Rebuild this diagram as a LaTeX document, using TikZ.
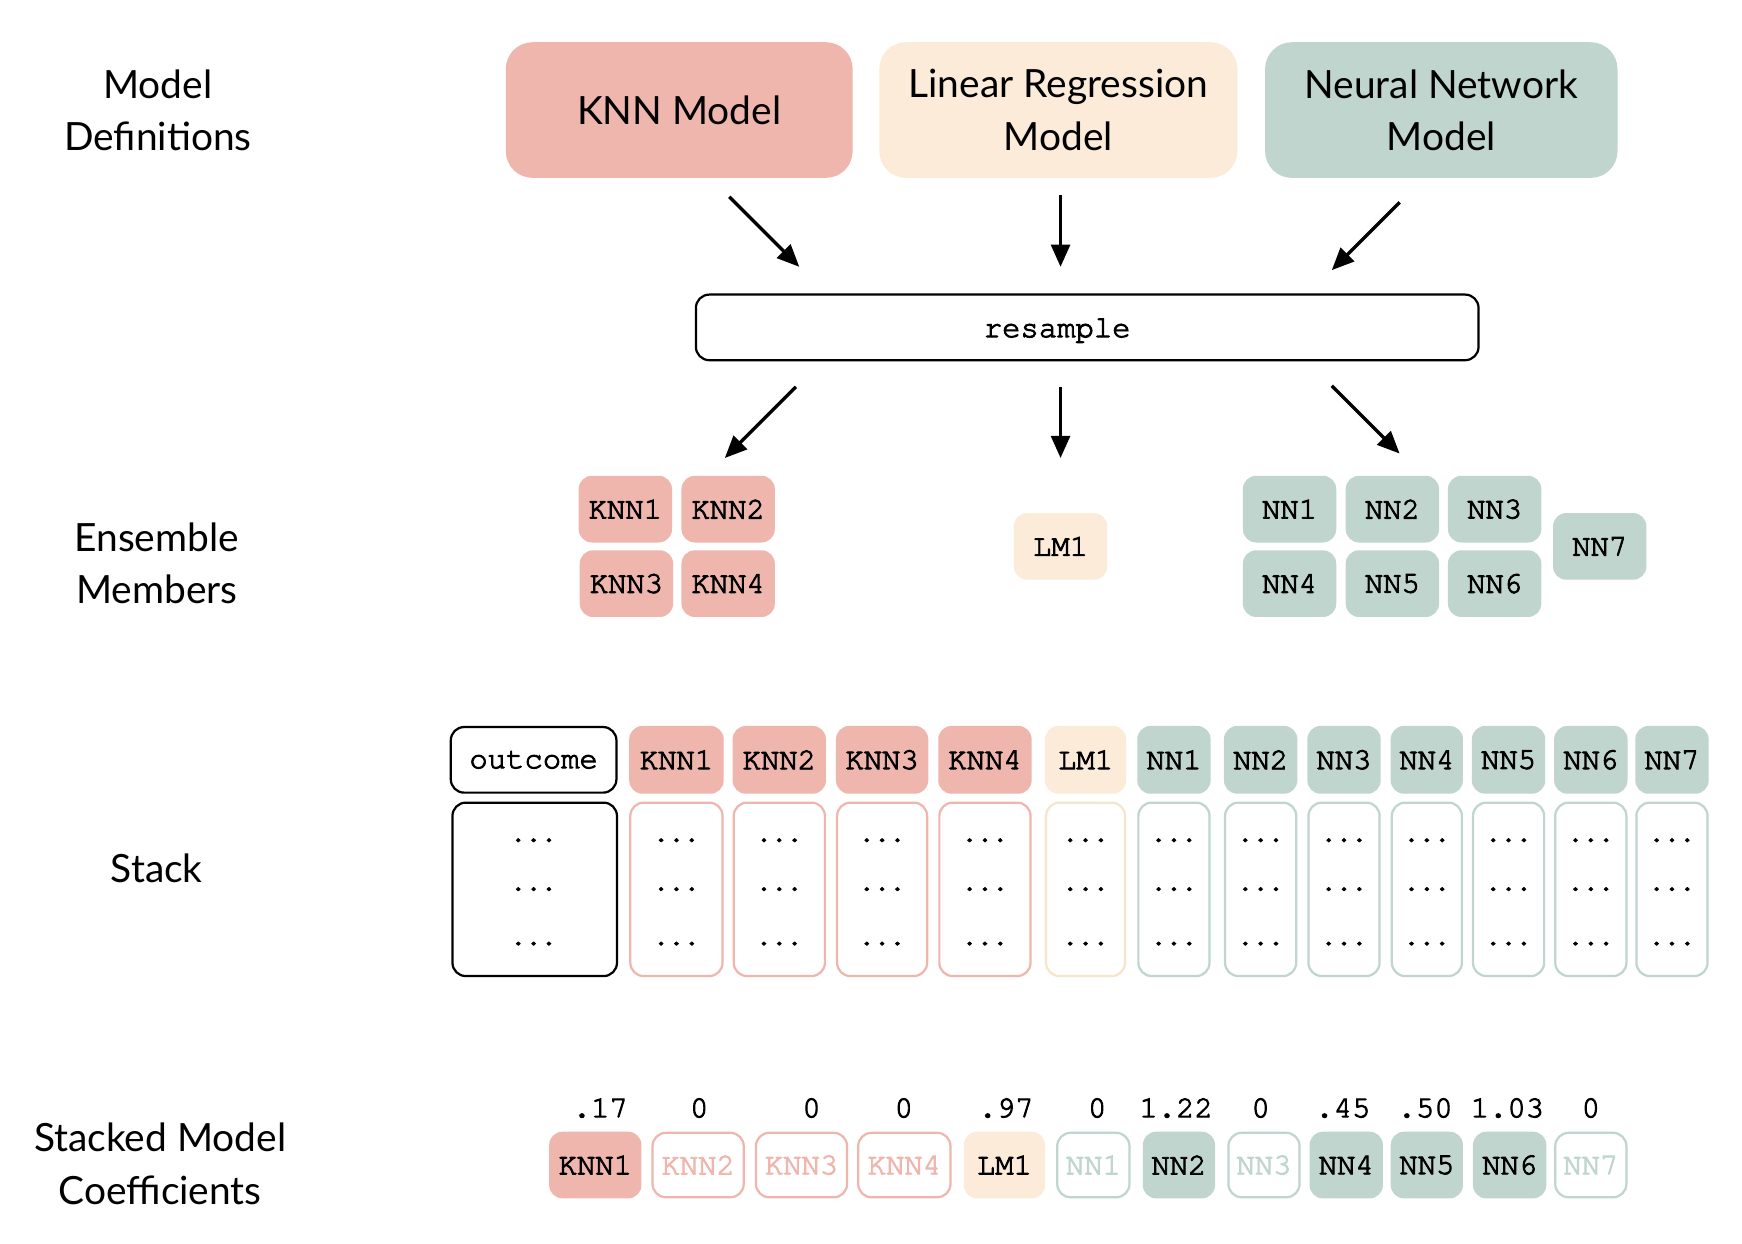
\documentclass[tikz,border=0pt]{standalone}
\usepackage{fontspec}
\setmainfont{Lato}
\newfontfamily\courfont{texgyrecursor-regular.otf}[FakeBold=3]
\usetikzlibrary{arrows.meta,calc}
\definecolor{pk}{HTML}{EFB6AE}
\definecolor{cr}{HTML}{FBEBD8}
\definecolor{crl}{HTML}{F7E4CC}
\definecolor{gr}{HTML}{C0D5CE}
\begin{document}
\begin{tikzpicture}[x=1pt,y=-1pt,
  lbl/.style={font=\fontsize{35}{47}\selectfont, align=center, inner sep=0pt},
  big/.style={rounded corners=24pt, minimum height=122pt, inner sep=0pt, align=center, font=\fontsize{35}{47}\selectfont},
  mono/.style={font=\courfont\fontsize{27.5}{30}\selectfont, inner sep=0pt},
  mem/.style={mono, rounded corners=12pt, minimum width=84pt, minimum height=60pt},
  hdr/.style={mono, rounded corners=12pt, minimum height=61pt},
  colbody/.style={rounded corners=12pt, line width=2pt, minimum height=156pt, inner sep=0pt},
  dots/.style={font=\courfont\fontsize{23}{26}\selectfont, inner sep=0pt, anchor=base},
  coef/.style={mono, rounded corners=12pt, minimum height=60pt},
  coefo/.style={mono, rounded corners=12pt, minimum height=58pt, line width=2pt, fill=white},
  num/.style={mono, anchor=base},
  arr/.style={line width=3pt, -{Triangle[length=20pt,width=17pt]}}
]
\fill[white] (0,0) rectangle (1567,1119);
\useasboundingbox (0,0) rectangle (1567,1119);

% left labels
\node[lbl] (ldef) at (142,99) {Model\\Definitions};
\node[lbl] (lens) at (141,507) {Ensemble\\Members};
\node[lbl] (lstack) at (141,781) {Stack};
\node[lbl] (lcoef) at (144,1047) {Stacked Model\\Coefficients};

% model definitions
\node[big, fill=pk, minimum width=312pt] (knn) at (611,99) {KNN Model};
\node[big, fill=cr, minimum width=322pt] (lin) at (952,99) {Linear Regression\\Model};
\node[big, fill=gr, minimum width=317pt] (nn) at (1296.5,99) {Neural Network\\Model};

% resample
\node[draw, line width=2pt, rounded corners=12pt, minimum width=704pt, minimum height=59pt, inner sep=0pt] (res) at (978,294.5) {};
\node[mono] (restxt) at (951,297.5) {resample};

% arrows
\coordinate (a1s) at (656,177); \coordinate (a1e) at (719,240);
\coordinate (a2s) at (954,175); \coordinate (a2e) at (954,240);
\coordinate (a3s) at (1259,182); \coordinate (a3e) at (1198,243);
\coordinate (b1s) at (716,348); \coordinate (b1e) at (652,412);
\coordinate (b2s) at (954,348); \coordinate (b2e) at (954,412);
\coordinate (b3s) at (1198,347); \coordinate (b3e) at (1259,408);
\draw[arr] (a1s) -- (a1e);
\draw[arr] (a2s) -- (a2e);
\draw[arr] (a3s) -- (a3e);
\draw[arr] (b1s) -- (b1e);
\draw[arr] (b2s) -- (b2e);
\draw[arr] (b3s) -- (b3e);

% ensemble members
\node[mem, fill=pk] (eknn1) at (562.5,458) {KNN1};
\node[mem, fill=pk] (eknn2) at (655,458) {KNN2};
\node[mem, fill=pk] (eknn3) at (563.5,525) {KNN3};
\node[mem, fill=pk] (eknn4) at (655,525) {KNN4};
\node[mem, fill=cr] (elm1) at (954,491.5) {LM1};
\node[mem, fill=gr] (enn1) at (1160,458) {NN1};
\node[mem, fill=gr] (enn2) at (1252.5,458) {NN2};
\node[mem, fill=gr] (enn3) at (1344.5,458) {NN3};
\node[mem, fill=gr] (enn4) at (1160,525) {NN4};
\node[mem, fill=gr] (enn5) at (1252.5,525) {NN5};
\node[mem, fill=gr] (enn6) at (1344.5,525) {NN6};
\node[mem, fill=gr] (enn7) at (1439,491.5) {NN7};

% stack
\node[hdr, draw=black, line width=2pt, minimum width=149pt, minimum height=59pt] (hout) at (480,683.5) {outcome};
\node[colbody, draw=black, minimum width=148pt] (bout) at (481,800) {};
\node[dots] (d1out) at (480,757) {...};
\node[dots] (d2out) at (480,801) {...};
\node[dots] (d3out) at (480,850) {...};
\foreach \nm/\xx/\ww/\cf/\cb in {KNN1/608.5/85/pk/pk, KNN2/701/84/pk/pk, KNN3/793.5/83/pk/pk, KNN4/886/84/pk/pk, LM1/976.5/73/cr/crl, NN1/1056/66/gr/gr, NN2/1134/66/gr/gr, NN3/1209/66/gr/gr, NN4/1283.5/65/gr/gr, NN5/1357/66/gr/gr, NN6/1431/66/gr/gr, NN7/1504/66/gr/gr}{
  \node[hdr, fill=\cf, minimum width=\ww] (h\nm) at (\xx,683.5) {\nm};
  \node[colbody, draw=\cb, minimum width=\ww-2] (b\nm) at (\xx,800) {};
  \node[dots] (da\nm) at (\xx,757) {...};
  \node[dots] (db\nm) at (\xx,801) {...};
  \node[dots] (dc\nm) at (\xx,850) {...};
}

% coefficients
\node[coef, fill=pk, minimum width=83pt] (cKNN1) at (535.5,1048) {KNN1};
\node[coefo, draw=pk, text=pk, minimum width=82pt] (cKNN2) at (628,1048) {KNN2};
\node[coefo, draw=pk, text=pk, minimum width=82pt] (cKNN3) at (721,1048) {KNN3};
\node[coefo, draw=pk, text=pk, minimum width=83pt] (cKNN4) at (813.5,1048) {KNN4};
\node[coef, fill=cr, minimum width=73pt] (cLM1) at (903.5,1048) {LM1};
\node[coefo, draw=gr, text=gr, minimum width=65pt] (cNN1) at (983.5,1048) {NN1};
\node[coef, fill=gr, minimum width=65pt] (cNN2) at (1060.5,1048) {NN2};
\node[coefo, draw=gr, text=gr, minimum width=64pt] (cNN3) at (1137,1048) {NN3};
\node[coef, fill=gr, minimum width=66pt] (cNN4) at (1211,1048) {NN4};
\node[coef, fill=gr, minimum width=65pt] (cNN5) at (1283.5,1048) {NN5};
\node[coef, fill=gr, minimum width=66pt] (cNN6) at (1358,1048) {NN6};
\node[coefo, draw=gr, text=gr, minimum width=64pt] (cNN7) at (1431,1048) {NN7};

\node[num] (nKNN1) at (540,1005) {.17};
\node[num] (nKNN2) at (629,1005) {0};
\node[num] (nKNN3) at (730,1005) {0};
\node[num] (nKNN4) at (813,1005) {0};
\node[num] (nLM1) at (905,1005) {.97};
\node[num] (nNN1) at (987,1005) {0};
\node[num] (nNN2) at (1058,1005) {1.22};
\node[num] (nNN3) at (1134,1005) {0};
\node[num] (nNN4) at (1208,1005) {.45};
\node[num] (nNN5) at (1282,1005) {.50};
\node[num] (nNN6) at (1356,1005) {1.03};
\node[num] (nNN7) at (1431,1005) {0};
\end{tikzpicture}
\end{document}
